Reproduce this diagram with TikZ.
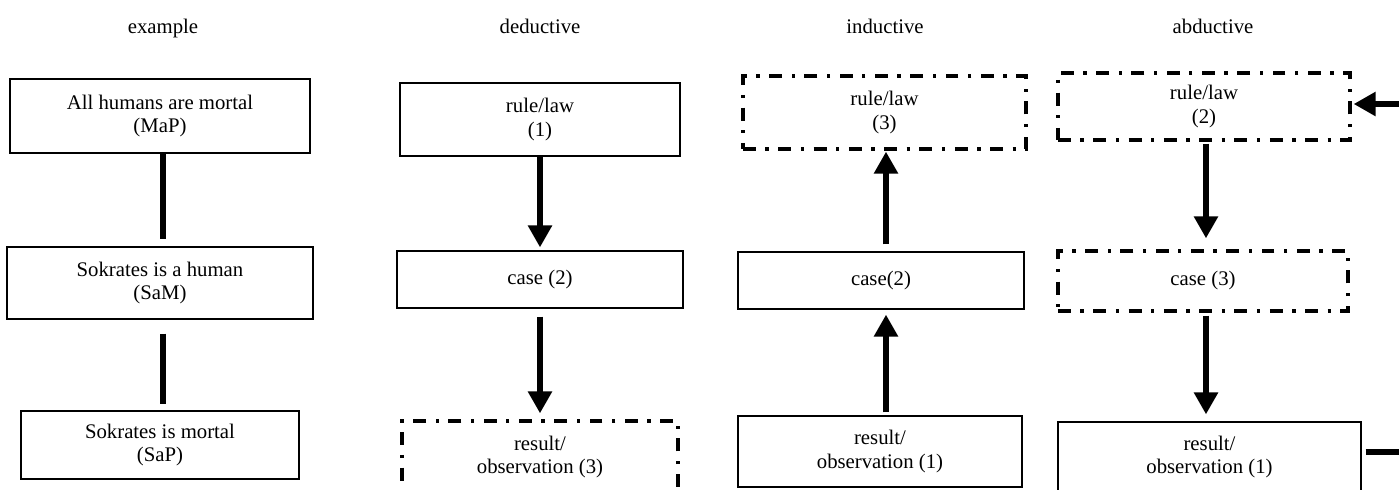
\documentclass[tikz,border=0pt]{standalone}
\usepackage{fontspec}
\setmainfont{Liberation Serif}
\usetikzlibrary{arrows.meta,calc}
\newcommand\pxu{0.578pt}
\tikzset{
  box/.style={draw, line width=0.7pt, align=center, inner sep=0pt, font=\fontsize{12}{13.5}\selectfont},
  dbox/.style={box, line width=1.9pt, dash pattern=on 7.5pt off 5.5pt on 1.9pt off 5.5pt},
  ttl/.style={font=\fontsize{12}{13.5}\selectfont, inner sep=0pt, anchor=base},
  conn/.style={line width=3.2pt},
  arr/.style={conn, -{Triangle[length=12.7pt,width=13.3pt]}},
}
\begin{document}
\begin{tikzpicture}[x=0.578pt,y=-0.578pt]
\useasboundingbox (0,0) rectangle (1399,489);
\clip (0,0) rectangle (1399,489);
% titles
\node[ttl] (t1) at (163,33) {example};
\node[ttl] (t2) at (540,33) {deductive};
\node[ttl] (t3) at (885,33) {inductive};
\node[ttl] (t4) at (1213,33) {abductive};
% example
\node[box, minimum width=300*\pxu, minimum height=74*\pxu] (e1) at (160,116) {All humans are mortal\\(MaP)};
\node[box, minimum width=306*\pxu, minimum height=72*\pxu] (e2) at (160,283) {Sokrates is a human\\(SaM)};
\node[box, minimum width=278*\pxu, minimum height=68*\pxu] (e3) at (160,445) {Sokrates is mortal\\(SaP)};
\coordinate (ex) at (163,0);
\draw[conn] (e1.south -| ex) -- ($(e2.north -| ex)+(0,-7)$);
\draw[conn] ($(e2.south -| ex)+(0,14)$) -- ($(e3.north -| ex)+(0,-6)$);
% deductive
\node[box, minimum width=280*\pxu, minimum height=73*\pxu] (d1) at (540,119.5) {rule/law\\(1)};
\node[box, minimum width=286*\pxu, minimum height=57*\pxu] (d2) at (540,279.5) {case (2)};
\node[dbox, minimum width=276*\pxu, minimum height=72*\pxu] (d3) at (540,457) {result/\\observation (3)};
\draw[arr] (d1.south) -- ($(d2.north)+(0,-3)$);
\draw[arr] ($(d2.south)+(0,8)$) -- ($(d3.north)+(0,-6)$);
% inductive
\node[dbox, minimum width=283*\pxu, minimum height=73*\pxu] (i1) at (884.5,112.5) {rule/law\\(3)};
\node[box, minimum width=286*\pxu, minimum height=57*\pxu] (i2) at (881,280.5) {case(2)};
\node[box, minimum width=284*\pxu, minimum height=71*\pxu] (i3) at (880,451.5) {result/\\observation (1)};
\coordinate (ix) at (886,0);
\draw[arr] ($(i2.north -| ix)+(0,-7)$) -- ($(i1.south -| ix)+(0,1)$);
\draw[arr] ($(i3.north -| ix)+(0,-3)$) -- ($(i2.south -| ix)+(0,5)$);
% abductive
\node[dbox, minimum width=292*\pxu, minimum height=67*\pxu] (a1) at (1204,106.5) {rule/law\\(2)};
\node[dbox, minimum width=290*\pxu, minimum height=60*\pxu] (a2) at (1203,281) {case (3)};
\node[box, minimum width=303*\pxu, minimum height=70*\pxu] (a3) at (1209.5,457) {result/\\observation (1)};
\coordinate (ax) at (1206,0);
\draw[arr] ($(a1.south -| ax)+(0,2)$) -- ($(a2.north -| ax)+(0,-11)$);
\draw[arr] ($(a2.south -| ax)+(0,3)$) -- ($(a3.north -| ax)+(0,-7)$);
\coordinate (inR) at (1405,104);
\coordinate (outR) at (1405,452);
\draw[arr] (inR) -- ($(a1.east |- inR)+(2,0)$);
\draw[conn] ($(a3.east |- outR)+(4,0)$) -- (outR);
\end{tikzpicture}
\end{document}
